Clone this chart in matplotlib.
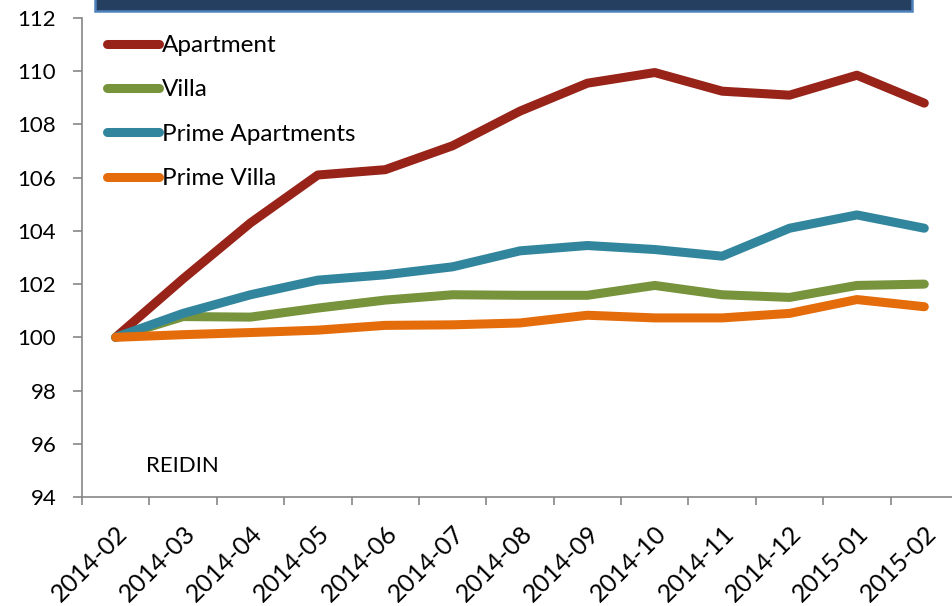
import matplotlib
matplotlib.use('Agg')
import matplotlib.pyplot as plt
from matplotlib.patches import Rectangle
import numpy as np

months = ['2014-02', '2014-03', '2014-04', '2014-05', '2014-06', '2014-07', '2014-08',
          '2014-09', '2014-10', '2014-11', '2014-12', '2015-01', '2015-02']
apartment = [100.0, 102.2, 104.3, 106.1, 106.3, 107.2, 108.5, 109.55, 109.95, 109.25, 109.1, 109.85, 108.8]
villa = [100.0, 100.78, 100.76, 101.1, 101.4, 101.6, 101.58, 101.58, 101.95, 101.6, 101.5, 101.95, 102.0]
prime_apt = [100.0, 100.9, 101.6, 102.15, 102.35, 102.65, 103.25, 103.45, 103.3, 103.05, 104.1, 104.6, 104.1]
prime_villa = [100.0, 100.1, 100.18, 100.27, 100.45, 100.47, 100.54, 100.83, 100.73, 100.73, 100.9, 101.42, 101.15]

plt.rcParams['font.family'] = ['Lato', 'DejaVu Sans']

fig = plt.figure(figsize=(9.52, 6.06), dpi=100)
ax = fig.add_axes([82 / 952, 109 / 606, 876 / 952, 479 / 606])

x = np.arange(len(months))
series = [('Apartment', apartment, '#982319'),
          ('Villa', villa, '#77933C'),
          ('Prime Apartments', prime_apt, '#31859C'),
          ('Prime Villa', prime_villa, '#E46C0A')]
for name, vals, col in series:
    ax.plot(x, vals, color=col, lw=6.5, solid_capstyle='round',
            solid_joinstyle='round', label=name)

ax.set_xlim(-0.5, len(months) - 0.5)
ax.set_ylim(94, 112)
ax.set_yticks(np.arange(94, 113, 2))
ax.set_xticks(x)
ax.set_xticklabels(months, rotation=45, ha='right', va='top', rotation_mode='anchor')
ax.set_xticks(np.arange(-0.5, len(months), 1), minor=True)

grey = '#868686'
for s in ['top', 'right']:
    ax.spines[s].set_visible(False)
for s in ['left', 'bottom']:
    ax.spines[s].set_color(grey)
    ax.spines[s].set_linewidth(1.2)
ax.tick_params(axis='y', length=6.5, width=1.2, color=grey, labelsize=16, pad=12)
ax.tick_params(axis='x', which='major', length=0, labelsize=18, pad=18)
ax.tick_params(axis='x', which='minor', length=6, width=1.2, color=grey)

ax.text(0.073, 0.065, 'REIDIN', transform=ax.transAxes, fontsize=16, va='center')

leg = ax.legend(loc='upper left', bbox_to_anchor=(0.003, 1.01), frameon=False,
                fontsize=17.5, handlelength=2.15, handletextpad=0.12, labelspacing=0.96)

# title banner clipped at the top edge
fig.patches.append(Rectangle((95 / 952, 595 / 606), 817 / 952, 0.05,
                             transform=fig.transFigure, facecolor='#243F60',
                             edgecolor='#4F81BD', linewidth=1.8))

plt.savefig('out.png', dpi=100)
